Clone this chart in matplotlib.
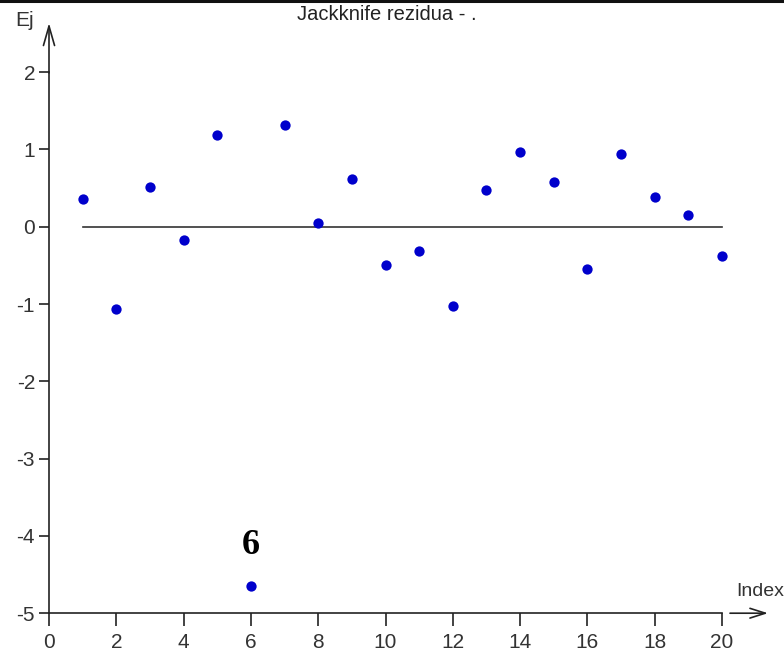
import matplotlib
matplotlib.use("Agg")
import matplotlib.pyplot as plt
from matplotlib import font_manager

index = list(range(1, 21))
residuals = [0.36, -1.065, 0.51, -0.17, 1.18, -4.65, 1.32, 0.05, 0.62, -0.49,
             -0.32, -1.03, 0.47, 0.96, 0.58, -0.55, 0.94, 0.38, 0.155, -0.375]
xticks = [0, 2, 4, 6, 8, 10, 12, 14, 16, 18, 20]
yticks = [-5, -4, -3, -2, -1, 0, 1, 2]
title = "Jackknife rezidua - ."
outlier_label = "6"

names = {f.name for f in font_manager.fontManager.ttflist}
sans = "Liberation Sans Narrow" if "Liberation Sans Narrow" in names else "Liberation Sans"

fig = plt.figure(figsize=(7.84, 6.57), dpi=100)
ax = fig.add_axes([0, 0, 1, 1])
ax.set_xlim(-49 / 33.65, (784 - 49) / 33.65)
ax.set_ylim((226.7 - 657) / 77.3, 226.7 / 77.3)

for s in ["top", "right"]:
    ax.spines[s].set_visible(False)
ax.spines["left"].set_position(("data", 0))
ax.spines["bottom"].set_position(("data", -5))
ax.spines["left"].set_bounds(-5, 2.0)
ax.spines["bottom"].set_bounds(0, 20)
for s in ["left", "bottom"]:
    ax.spines[s].set_color("#222222")
    ax.spines[s].set_linewidth(1.2)

ax.set_xticks(xticks)
ax.set_yticks(yticks)
ax.set_xticklabels([str(v) for v in xticks], fontfamily=sans, fontsize=15, color="#333333")
ax.set_yticklabels([str(v) for v in yticks], fontfamily=sans, fontsize=15, color="#333333")
ax.tick_params(axis="x", direction="out", length=9, width=1.2, pad=5, color="#222222")
ax.tick_params(axis="y", direction="out", length=7, width=1.2, pad=3, color="#222222")

# zero reference line
ax.plot([index[0], index[-1]], [0, 0], color="#333333", lw=1.2, zorder=2)

# points
ax.scatter(index, residuals, s=55, color="#0000cc", zorder=3, linewidths=0)

# y arrow
ax.annotate("", xy=(0, 2.635), xytext=(0, 1.99),
            arrowprops=dict(arrowstyle="->,head_length=1.4,head_width=0.4",
                            color="#222222", lw=1.2, shrinkA=0, shrinkB=0))
# x arrow
ax.annotate("", xy=((768 - 49) / 33.65, -5), xytext=((730 - 49) / 33.65, -5),
            arrowprops=dict(arrowstyle="->,head_length=1.1,head_width=0.35",
                            color="#222222", lw=1.2, shrinkA=0, shrinkB=0))

ax.text((25 - 49) / 33.65, (226.7 - 21) / 77.3, "Ej", fontfamily=sans, fontsize=15,
        color="#333333", ha="center", va="center")
ax.text((736 - 49) / 33.65, (226.7 - 591) / 77.3, "Index", fontfamily=sans, fontsize=14,
        color="#333333", ha="left", va="center")
ax.text((387 - 49) / 33.65, (226.7 - 15) / 77.3, title, fontfamily=sans,
        fontsize=14.5, color="#222222", ha="center", va="center")
ax.text(index[5], (226.7 - 545) / 77.3, outlier_label, fontfamily="Liberation Serif",
        fontweight="bold", fontsize=26, color="black", ha="center", va="center")

# top frame line
fig.add_artist(plt.Line2D([0, 1], [1 - 1 / 657, 1 - 1 / 657], transform=fig.transFigure,
                          color="#111111", lw=2.2))

fig.savefig("out.png", dpi=100, facecolor="white")
